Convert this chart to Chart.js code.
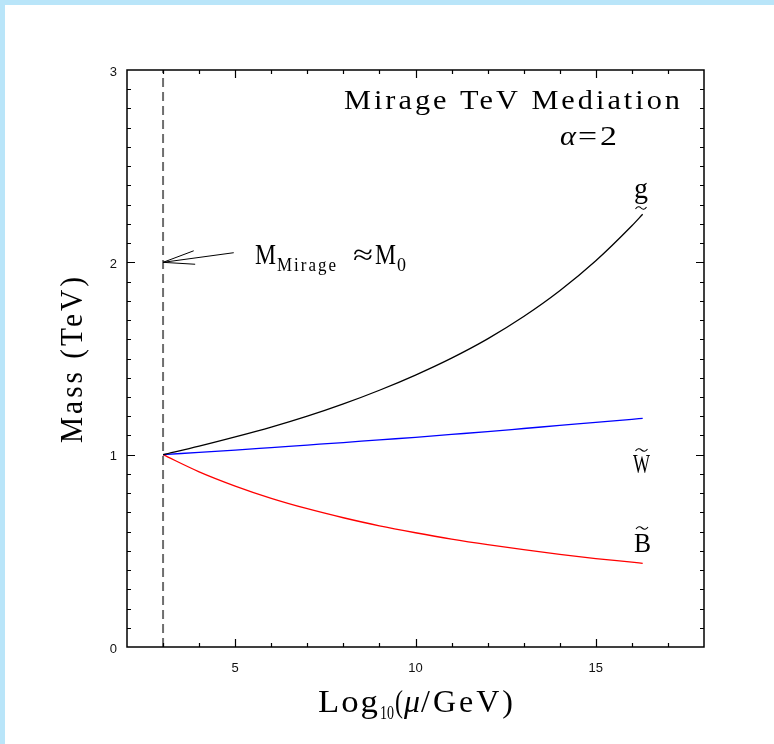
<!DOCTYPE html>
<html>
<head>
<meta charset="utf-8">
<script src="https://cdn.jsdelivr.net/npm/chart.js@4.4.0/dist/chart.umd.min.js"></script>
<style>
html, body { margin: 0; padding: 0; background: #fff; }
canvas { display: block; }
</style>
</head>
<body>
<canvas id="myChart" width="774" height="744"></canvas>
<script>
// Log10(mu/GeV) vs mass in TeV
const logMu  = [3, 4, 5, 6, 7, 8, 9, 10, 11, 12, 13, 14, 15, 16, 16.3];
const gluino = [1.000, 1.044, 1.092, 1.143, 1.200, 1.264, 1.335, 1.414, 1.502, 1.602, 1.718, 1.852, 2.008, 2.190, 2.250];
const wino   = [1.000, 1.012, 1.024, 1.037, 1.050, 1.063, 1.077, 1.090, 1.105, 1.120, 1.136, 1.152, 1.168, 1.184, 1.189];
const bino   = [1.000, 0.911, 0.837, 0.773, 0.719, 0.672, 0.630, 0.594, 0.561, 0.532, 0.506, 0.482, 0.460, 0.441, 0.435];
const mirageX = [3, 3];
const mirageY = [0, 3];
const xTicks = [5, 10, 15];
const yTicks = [0, 1, 2, 3];

function pts(xs, ys) {
    return xs.map((x, i) => ({ x: x, y: ys[i] }));
}

// text stretched to fill a width with a fixed gap between letters
function fitText(c, str, x, y, size, width, italic, gap) {
    gap = gap || 0;
    c.save();
    c.font = (italic ? 'italic ' : '') + size + 'px "Liberation Serif"';
    c.letterSpacing = '0px';
    const w0 = c.measureText(str).width;
    const sx = (width - gap * (str.length - 1)) / w0;
    c.letterSpacing = (gap / sx) + 'px';
    c.translate(x, y);
    c.scale(sx, 1);
    c.textAlign = 'left';
    c.textBaseline = 'alphabetic';
    c.fillStyle = '#000';
    c.fillText(str, 0, 0);
    c.restore();
}

function tilde(c, cx, cy, w) {
    const x0 = cx - w / 2;
    c.beginPath();
    c.moveTo(x0, cy + 1);
    c.quadraticCurveTo(x0 + w * 0.25, cy - 3, x0 + w * 0.5, cy);
    c.quadraticCurveTo(x0 + w * 0.75, cy + 3, x0 + w, cy - 1);
    c.stroke();
}

const frame = {
    id: 'frame',
    beforeDraw(chart) {
        const c = chart.ctx;
        c.save();
        c.fillStyle = '#fff';
        c.fillRect(0, 0, chart.width, chart.height);
        c.fillStyle = '#b9e5f9';
        c.fillRect(0, 0, chart.width, 5);
        c.fillRect(0, 0, 5, chart.height);
        c.restore();
    },
    afterDraw(chart) {
        const c = chart.ctx;
        const a = chart.chartArea;
        const xs = chart.scales.x, ys = chart.scales.y;
        c.save();
        c.strokeStyle = '#000';
        c.lineWidth = 1.2;
        c.beginPath();
        for (let v = 3; v <= 17; v++) {
            const len = v % 5 === 0 ? 8 : 4;
            const px = Math.round(xs.getPixelForValue(v)) + 0.5;
            c.moveTo(px, a.bottom); c.lineTo(px, a.bottom - len);
            c.moveTo(px, a.top); c.lineTo(px, a.top + len);
        }
        for (let i = 1; i < 30; i++) {
            const len = i % 10 === 0 ? 8 : 4;
            const py = Math.round(ys.getPixelForValue(i / 10)) + 0.5;
            c.moveTo(a.left, py); c.lineTo(a.left + len, py);
            c.moveTo(a.right, py); c.lineTo(a.right - len, py);
        }
        c.stroke();
        c.lineWidth = 1.5;
        c.strokeRect(a.left, a.top, a.right - a.left, a.bottom - a.top);

        // arrow pointing at the mirage scale
        const P = (x, y) => [xs.getPixelForValue(x), ys.getPixelForValue(y)];
        const tip = P(3, 2.0), tail = P(4.96, 2.05), h1 = P(3.85, 2.06), h2 = P(3.89, 1.99);
        c.lineWidth = 1;
        c.beginPath();
        c.moveTo(tail[0], tail[1]); c.lineTo(tip[0], tip[1]);
        c.moveTo(h1[0], h1[1]); c.lineTo(tip[0], tip[1]); c.lineTo(h2[0], h2[1]);
        c.stroke();

        // labels
        fitText(c, 'Mirage TeV Mediation', 344, 109, 27, 336, false, 3);
        fitText(c, 'α', 560, 145, 28, 16, true, 0);
        fitText(c, '=2', 578, 145, 28, 39, false, 3);

        fitText(c, 'M', 255, 264, 30, 21, false, 0);
        fitText(c, 'Mirage', 277, 271, 18, 59, false, 2);
        fitText(c, '≈', 353, 264, 28, 20, false, 0);
        fitText(c, 'M', 375, 264, 30, 21, false, 0);
        fitText(c, '0', 397, 271, 19, 9, false, 0);

        c.lineWidth = 1.1;
        fitText(c, 'g', 634, 198, 30, 14, false, 0);
        tilde(c, 641, 208, 11);
        fitText(c, 'W', 633, 473, 27, 17, false, 0);
        tilde(c, 641.5, 450, 12);
        fitText(c, 'B', 634, 552, 28, 17, false, 0);
        tilde(c, 642, 528, 12);

        // axis titles
        fitText(c, 'Log', 318, 712, 31, 60, false, 2);
        fitText(c, '10', 380, 719, 19, 14, false, 0);
        fitText(c, '(', 395, 712, 31, 8, false, 0);
        fitText(c, 'μ', 404, 712, 31, 16, true, 0);
        fitText(c, '/GeV)', 421, 712, 31, 92, false, 3);

        c.save();
        c.translate(82, 443);
        c.rotate(-Math.PI / 2);
        fitText(c, 'Mass (TeV)', 0, 0, 31, 166, false, 3);
        c.restore();

        c.restore();
    }
};

const ctx = document.getElementById('myChart').getContext('2d');
const chart = new Chart(ctx, {
    type: 'line',
    data: {
        datasets: [
            { data: pts(logMu, gluino), borderColor: '#000000', borderWidth: 1.3, pointRadius: 0, cubicInterpolationMode: 'monotone' },
            { data: pts(logMu, wino), borderColor: '#0000ff', borderWidth: 1.3, pointRadius: 0, cubicInterpolationMode: 'monotone' },
            { data: pts(logMu, bino), borderColor: '#ff0000', borderWidth: 1.3, pointRadius: 0, cubicInterpolationMode: 'monotone' },
            { data: pts(mirageX, mirageY), borderColor: '#6e6e6e', borderWidth: 2, borderDash: [9, 5], pointRadius: 0 }
        ]
    },
    options: {
        responsive: false,
        animation: false,
        devicePixelRatio: 1,
        layout: { padding: { left: 110, top: 70, right: 70, bottom: 67 } },
        plugins: { legend: { display: false }, tooltip: { enabled: false } },
        scales: {
            x: {
                type: 'linear', min: 2, max: 18,
                grid: { display: false, drawTicks: false },
                border: { display: false },
                afterBuildTicks: s => { s.ticks = xTicks.map(v => ({ value: v })); },
                afterFit: s => { s.height = 30; },
                ticks: { padding: 14, autoSkip: false, maxRotation: 0, color: '#111', font: { family: 'Liberation Sans', size: 13 } }
            },
            y: {
                type: 'linear', min: 0, max: 3,
                grid: { display: false, drawTicks: false },
                border: { display: false },
                afterBuildTicks: s => { s.ticks = yTicks.map(v => ({ value: v })); },
                afterFit: s => { s.width = 17; },
                ticks: { padding: 10, labelOffset: 2, color: '#111', font: { family: 'Liberation Sans', size: 13 } }
            }
        }
    },
    plugins: [frame]
});
</script>
</body>
</html>
